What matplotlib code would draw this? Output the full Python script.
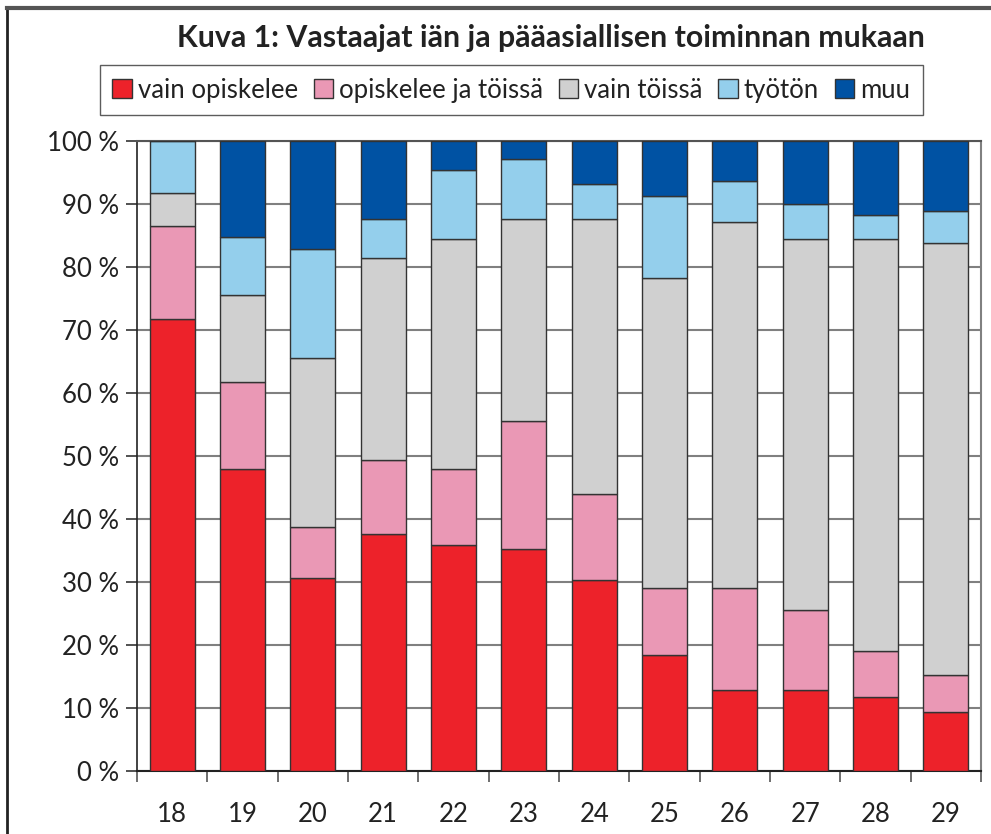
import numpy as np
import matplotlib
matplotlib.use('Agg')
import matplotlib.pyplot as plt
from matplotlib.lines import Line2D
from matplotlib.ticker import FuncFormatter

ages = ['18', '19', '20', '21', '22', '23', '24', '25', '26', '27', '28', '29']
vain_opiskelee = [71.7, 47.9, 30.7, 37.6, 35.9, 35.2, 30.4, 18.4, 12.9, 12.9, 11.8, 9.4]
opiskelee_ja_toissa = [14.8, 13.8, 8.0, 11.8, 12.0, 20.4, 13.5, 10.6, 16.1, 12.7, 7.2, 5.8]
vain_toissa = [5.2, 13.8, 26.8, 32.0, 36.6, 32.0, 43.7, 49.3, 58.2, 58.9, 65.5, 68.6]
tyoton = [8.3, 9.3, 17.3, 6.2, 10.9, 9.5, 5.5, 13.0, 6.5, 5.5, 3.7, 5.1]
muu = [0.0, 15.2, 17.2, 12.4, 4.6, 2.9, 6.9, 8.7, 6.3, 10.0, 11.8, 11.1]

series = [vain_opiskelee, opiskelee_ja_toissa, vain_toissa, tyoton, muu]
labels = ['vain opiskelee', 'opiskelee ja töissä', 'vain töissä', 'työtön', 'muu']
colors = ['#ED222A', '#EA98B5', '#D0D0D0', '#94CFEC', '#0052A3']

plt.rcParams['font.family'] = ['Lato', 'DejaVu Sans']

fig = plt.figure(figsize=(9.91, 8.34), dpi=100)
ax = fig.add_axes([0.1382, 0.0755, 0.8517, 0.7554])

x = np.arange(len(ages))
bottom = np.zeros(len(ages))
for vals, lab, col in zip(series, labels, colors):
    vals = np.array(vals)
    ax.bar(x, vals, width=0.64, bottom=bottom, color=col, edgecolor='#333333',
           linewidth=1.0, label=lab, zorder=3)
    bottom += vals

ax.set_xlim(-0.5, len(ages) - 0.5)
ax.set_ylim(0, 100)
ax.set_yticks(np.arange(0, 101, 10))
ax.yaxis.set_major_formatter(FuncFormatter(lambda v, p: '%d %%' % v))
ax.grid(axis='y', color='#808080', linewidth=1.5, zorder=0)
ax.set_axisbelow(True)

ax.set_xticks(x)
ax.set_xticklabels(ages)
ax.set_xticks(np.arange(-0.5, len(ages), 1), minor=True)
ax.tick_params(axis='x', which='major', length=0, pad=22, labelsize=18.5, colors='#222222')
ax.tick_params(axis='x', which='minor', length=8, width=1.2, color='#555555')
ax.tick_params(axis='y', length=8, width=1.2, color='#333333', labelsize=18.5,
               labelcolor='#222222', pad=5)

ax.spines['left'].set_color('#222222')
ax.spines['left'].set_linewidth(1.2)
ax.spines['bottom'].set_color('#222222')
ax.spines['bottom'].set_linewidth(1.5)
ax.spines['top'].set_color('#555555')
ax.spines['top'].set_linewidth(1.5)
ax.spines['right'].set_color('#808080')
ax.spines['right'].set_linewidth(1.5)

fig.text(0.556, 0.954, 'Kuva 1: Vastaajat iän ja pääasiallisen toiminnan mukaan',
         ha='center', va='center', fontsize=21.8, fontweight='bold', color='#222222')

leg = fig.legend(loc='center', bbox_to_anchor=(0.516, 0.892), ncol=5, frameon=True,
                 fontsize=18.5, handlelength=0.75, handleheight=0.75, handletextpad=0.25,
                 columnspacing=0.6, borderpad=0.5, fancybox=False)
leg.get_frame().set_edgecolor('#333333')
leg.get_frame().set_linewidth(1.0)
for t in leg.get_texts():
    t.set_color('#222222')

# chart frame
fig.add_artist(Line2D([0.007, 0.007], [0.0, 0.99], transform=fig.transFigure,
                      color='#222222', linewidth=2))
fig.add_artist(Line2D([0.007, 1.0], [0.99, 0.99], transform=fig.transFigure,
                      color='#555555', linewidth=3))

fig.savefig('out.png', dpi=100)
plt.close(fig)
